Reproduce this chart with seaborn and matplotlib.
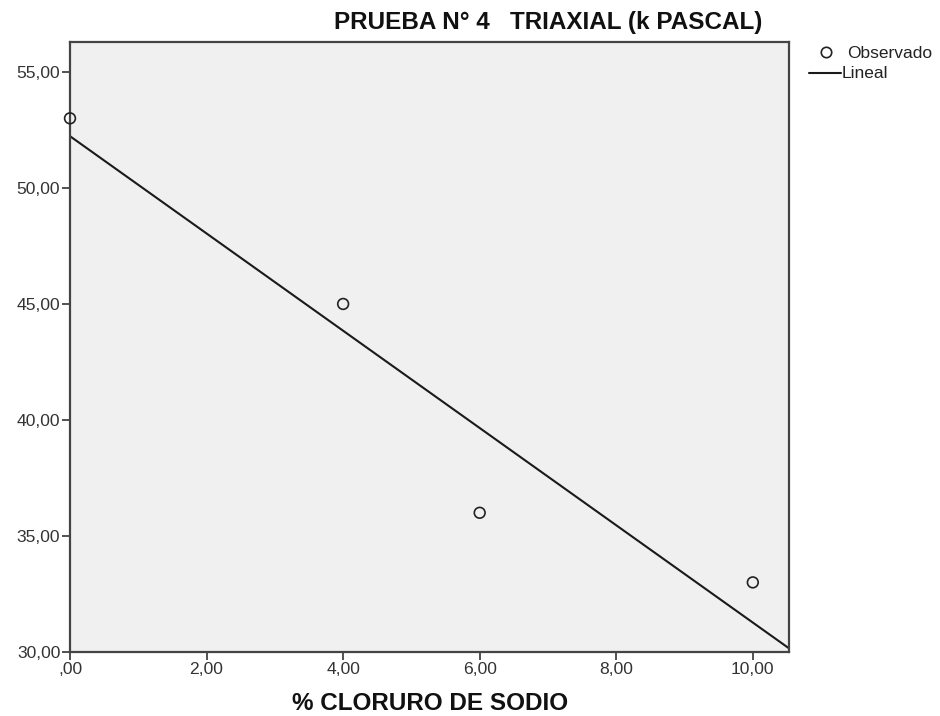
import matplotlib
matplotlib.use("Agg")
import matplotlib.pyplot as plt
from matplotlib.lines import Line2D
from matplotlib import font_manager as fm
import numpy as np
import pandas as pd
import seaborn as sns

# Triaxial test values (kPa) by sodium chloride percentage
cloruro = [0.0, 4.0, 6.0, 10.0]
triaxial = [53.0, 45.0, 36.0, 33.0]
x_ticks = [0, 2, 4, 6, 8, 10]
y_ticks = [30, 35, 40, 45, 50, 55]

df = pd.DataFrame({"cloruro": cloruro, "triaxial": triaxial})

sns.set_style("white")


def font_file(stem):
    for f in fm.findSystemFonts():
        if f.split("/")[-1].lower() == stem.lower():
            return f
    return None


reg_file = font_file("LiberationSans-Regular.ttf")
bold_file = font_file("LiberationSans-Bold.ttf")
fp_reg = fm.FontProperties(fname=reg_file) if reg_file else fm.FontProperties(family="DejaVu Sans")
fp_bold = fm.FontProperties(fname=bold_file) if bold_file else fm.FontProperties(family="DejaVu Sans", weight="bold")


def props(base, size):
    p = base.copy()
    p.set_size(size)
    return p


fig = plt.figure(figsize=(9.4, 7.16), dpi=100)
ax = fig.add_axes([70 / 940, 1 - 652 / 716, (789 - 70) / 940, (652 - 42) / 716])
ax.set_facecolor("#f0f0f0")

ax.set_xlim(0, 10.53)
ax.set_ylim(30, 56.29)

sns.regplot(data=df, x="cloruro", y="triaxial", ax=ax, scatter=False, ci=None,
            truncate=False, line_kws={"color": "#1a1a1a", "lw": 1.5})
sns.scatterplot(data=df, x="cloruro", y="triaxial", ax=ax, marker="o", s=60,
                facecolor="none", edgecolor="#222222", linewidth=1.2, zorder=3,
                clip_on=False)

ax.set_xlim(0, 10.53)
ax.set_ylim(30, 56.29)


def fmt(v):
    s = f"{v:.2f}".replace(".", ",")
    return s[1:] if s.startswith("0") else s


ax.set_xticks(x_ticks)
ax.set_xticklabels([fmt(v) for v in x_ticks], fontproperties=props(fp_reg, 12.6))
ax.set_yticks(y_ticks)
ax.set_yticklabels([fmt(v) for v in y_ticks], fontproperties=props(fp_reg, 12.6))
ax.tick_params(axis="both", length=6, width=1.2, color="#333333",
               labelcolor="#333333", pad=1, direction="out")
ax.tick_params(axis="x", bottom=True)
ax.tick_params(axis="y", left=True)

for sp in ax.spines.values():
    sp.set_color("#444444")
    sp.set_linewidth(1.6)

ax.set_xlabel("")
ax.set_ylabel("")

fig.text(762 / 940, 1 - 22 / 716, "PRUEBA N° 4   TRIAXIAL (k PASCAL)", ha="right",
         va="center", fontproperties=props(fp_bold, 17.5), color="#111111")
fig.text(430 / 940, 1 - 703 / 716, "% CLORURO DE SODIO", ha="center",
         va="center", fontproperties=props(fp_bold, 17.5), color="#111111")

# Legend outside the frame
fig.add_artist(Line2D([826 / 940], [1 - 52 / 716], marker="o", markersize=7.5,
                      markerfacecolor="none", markeredgecolor="#222222",
                      markeredgewidth=1.2, transform=fig.transFigure))
fig.text(847 / 940, 1 - 53 / 716, "Observado", ha="left", va="center",
         fontproperties=props(fp_reg, 12.5), color="#222222")
fig.add_artist(Line2D([809 / 940, 841 / 940], [1 - 73 / 716, 1 - 73 / 716],
                      color="#1a1a1a", lw=1.5, transform=fig.transFigure))
fig.text(842 / 940, 1 - 73 / 716, "Lineal", ha="left", va="center",
         fontproperties=props(fp_reg, 12.5), color="#222222")

fig.savefig("out.png", dpi=100)
